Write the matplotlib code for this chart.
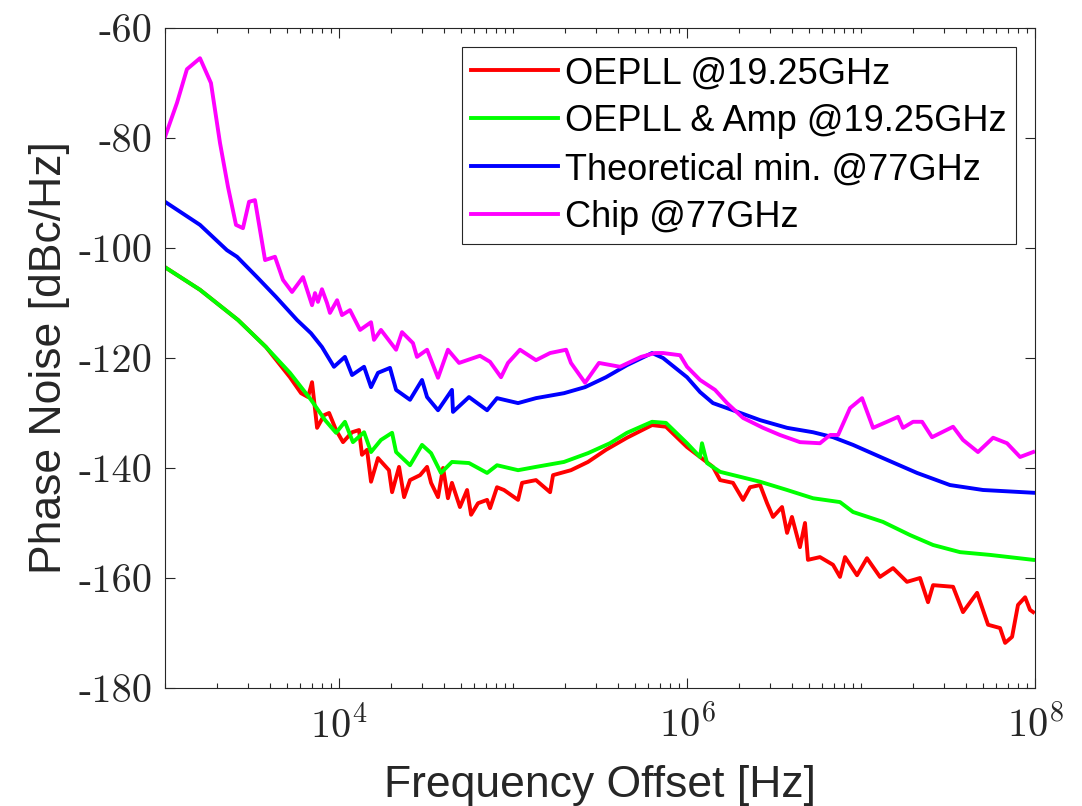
import numpy as np
import matplotlib
matplotlib.use("Agg")
import matplotlib.pyplot as plt
from matplotlib.ticker import LogLocator, NullFormatter, FixedLocator

# frequency points are given as log10(Hz), phase noise in dBc/Hz
red_logf = [3.000, 3.201, 3.420, 3.580, 3.718, 3.782, 3.822, 3.845, 3.874, 3.914,
            3.943, 3.983, 4.023, 4.075, 4.115, 4.132, 4.161, 4.184, 4.224, 4.287,
            4.305, 4.345, 4.374, 4.408, 4.466, 4.506, 4.529, 4.569, 4.598, 4.626,
            4.649, 4.695, 4.736, 4.759, 4.799, 4.851, 4.868, 4.908, 4.948, 5.029,
            5.052, 5.132, 5.213, 5.230, 5.333, 5.431, 5.534, 5.655, 5.799, 5.879,
            6.000, 6.075, 6.149, 6.190, 6.264, 6.322, 6.362, 6.420, 6.460, 6.494,
            6.546, 6.575, 6.603, 6.649, 6.678, 6.695, 6.764, 6.839, 6.879, 6.908,
            6.977, 7.034, 7.109, 7.184, 7.264, 7.339, 7.385, 7.414, 7.529, 7.586,
            7.667, 7.730, 7.799, 7.828, 7.868, 7.902, 7.943, 7.971, 7.989]
red_pn = [-103.5, -107.6, -113.1, -118.0, -123.5, -126.4, -127.1, -124.4, -132.7, -130.4,
          -130.0, -133.1, -135.3, -133.5, -133.1, -137.6, -136.7, -142.5, -138.2, -140.4,
          -144.4, -139.8, -145.3, -142.2, -141.3, -139.8, -142.7, -145.3, -140.0, -145.5,
          -142.7, -147.1, -144.0, -148.5, -146.4, -145.8, -147.3, -143.5, -144.0, -145.8,
          -142.7, -142.2, -144.4, -141.3, -140.4, -138.9, -136.7, -134.5, -132.2, -132.5,
          -136.2, -138.0, -139.8, -142.2, -142.7, -145.8, -143.5, -143.1, -146.4, -148.9,
          -147.1, -151.8, -148.9, -154.4, -150.0, -156.7, -156.2, -157.6, -159.8, -156.2,
          -159.5, -156.4, -159.8, -158.2, -160.7, -160.0, -164.4, -161.3, -161.6, -166.2,
          -162.7, -168.5, -169.1, -171.8, -170.7, -164.9, -163.5, -165.8, -166.2]

green_logf = [3.000, 3.201, 3.420, 3.580, 3.718, 3.839, 3.920, 3.983, 4.034, 4.080,
              4.144, 4.184, 4.241, 4.305, 4.328, 4.408, 4.477, 4.529, 4.586, 4.649,
              4.747, 4.851, 4.908, 5.029, 5.132, 5.293, 5.431, 5.557, 5.655, 5.799,
              5.879, 6.000, 6.075, 6.086, 6.115, 6.190, 6.305, 6.420, 6.575, 6.724,
              6.879, 6.954, 7.126, 7.282, 7.414, 7.569, 7.741, 7.989]
green_pn = [-103.5, -107.6, -113.1, -118.0, -122.7, -127.6, -131.3, -133.6, -131.6, -135.3,
            -133.5, -137.1, -134.9, -133.6, -137.1, -139.5, -135.8, -137.3, -140.9, -138.9,
            -139.1, -140.9, -139.5, -140.4, -139.8, -138.9, -137.3, -135.5, -133.6, -131.6,
            -131.8, -135.5, -138.0, -135.5, -139.1, -140.7, -141.6, -142.5, -144.0, -145.5,
            -146.2, -148.0, -149.8, -152.2, -154.0, -155.3, -155.8, -156.7]

blue_logf = [3.000, 3.201, 3.356, 3.414, 3.529, 3.638, 3.759, 3.839, 3.902, 3.971,
             4.034, 4.075, 4.144, 4.184, 4.224, 4.293, 4.328, 4.408, 4.477, 4.506,
             4.569, 4.649, 4.655, 4.747, 4.851, 4.908, 5.029, 5.132, 5.293, 5.414,
             5.534, 5.655, 5.799, 5.862, 6.000, 6.075, 6.149, 6.264, 6.420, 6.575,
             6.724, 6.839, 6.954, 7.126, 7.322, 7.511, 7.701, 7.989]
blue_pn = [-91.6, -95.8, -100.4, -101.6, -105.3, -108.9, -113.1, -115.5, -118.0, -121.6,
           -119.8, -123.1, -121.6, -125.3, -122.7, -121.8, -125.8, -127.6, -124.0, -127.1,
           -129.5, -125.8, -129.8, -127.1, -129.5, -127.3, -128.2, -127.3, -126.4, -125.3,
           -123.5, -121.3, -119.1, -120.0, -123.5, -126.2, -128.2, -129.5, -131.3, -132.7,
           -133.5, -134.4, -135.8, -138.2, -140.9, -143.1, -144.0, -144.5]

mag_logf = [3.000, 3.069, 3.126, 3.201, 3.264, 3.316, 3.362, 3.408, 3.448, 3.483,
            3.517, 3.575, 3.632, 3.678, 3.730, 3.793, 3.845, 3.862, 3.879, 3.902,
            3.931, 3.948, 3.989, 4.017, 4.063, 4.121, 4.184, 4.201, 4.241, 4.328,
            4.362, 4.425, 4.448, 4.506, 4.569, 4.626, 4.690, 4.810, 4.868, 4.931,
            4.971, 5.040, 5.132, 5.213, 5.305, 5.333, 5.414, 5.494, 5.615, 5.736,
            5.816, 5.862, 5.960, 6.000, 6.075, 6.161, 6.230, 6.322, 6.437, 6.534,
            6.649, 6.764, 6.822, 6.868, 6.937, 7.006, 7.069, 7.149, 7.213, 7.241,
            7.299, 7.351, 7.408, 7.529, 7.586, 7.672, 7.759, 7.839, 7.914, 7.989]
mag_pn = [-79.8, -73.6, -67.5, -65.5, -70.0, -80.9, -88.9, -95.8, -96.4, -91.6,
          -91.3, -102.2, -101.6, -105.8, -108.0, -105.3, -110.4, -108.2, -109.8, -107.5,
          -110.0, -111.8, -109.5, -112.2, -111.3, -114.9, -113.5, -116.7, -114.9, -118.5,
          -115.3, -117.3, -119.8, -118.5, -123.6, -118.5, -120.9, -119.6, -120.7, -123.5,
          -120.9, -118.5, -120.4, -119.1, -118.5, -120.9, -124.5, -120.9, -121.6, -119.8,
          -119.1, -119.1, -119.5, -121.6, -124.0, -125.8, -128.2, -130.9, -132.7, -134.0,
          -135.3, -135.5, -134.0, -134.0, -129.1, -127.3, -132.7, -131.6, -130.7, -132.7,
          -131.6, -131.6, -134.4, -132.5, -134.9, -137.1, -134.5, -135.5, -138.0, -137.1]

labels = ["OEPLL @19.25GHz", "OEPLL & Amp @19.25GHz",
          "Theoretical min. @77GHz", "Chip @77GHz"]
colors = ["#ff0000", "#00ff00", "#0000ff", "#ff00ff"]

plt.rcParams['mathtext.fontset'] = 'cm'
axcol = '#262626'

fig = plt.figure(figsize=(10.82, 8.06), dpi=100)
ax = fig.add_axes([0.1525, 0.1464, 0.8041, 0.8189])

series = [(red_logf, red_pn), (green_logf, green_pn),
          (blue_logf, blue_pn), (mag_logf, mag_pn)]
for (lf, pn), c, lab in zip(series, colors, labels):
    ax.plot(10 ** np.array(lf), pn, color=c, lw=2.8, label=lab)

ax.set_xscale('log')
ax.set_xlim(1e3, 1e8)
ax.set_ylim(-180, -60)

ax.xaxis.set_major_locator(FixedLocator([1e4, 1e6, 1e8]))
ax.xaxis.set_minor_locator(LogLocator(base=10, subs=np.arange(1, 10), numticks=20))
ax.xaxis.set_minor_formatter(NullFormatter())
ax.set_xticklabels([r'$10^{4}$', r'$10^{6}$', r'$10^{8}$'], fontsize=29)

yt = [-180, -160, -140, -120, -100, -80, -60]
ax.set_yticks(yt)
ax.set_yticklabels([str(v) for v in yt], fontfamily='cmr10', fontsize=29)

ax.tick_params(which='both', direction='in', top=True, right=True, colors=axcol)
ax.tick_params(which='major', length=7, width=0.8)
ax.tick_params(which='minor', length=3.5, width=0.8)
ax.tick_params(axis='y', pad=9)
ax.tick_params(axis='x', pad=13)
for s in ax.spines.values():
    s.set_color(axcol)
    s.set_linewidth(0.8)

ax.set_xlabel('Frequency Offset [Hz]', fontfamily='Liberation Sans', fontsize=32,
              color=axcol, labelpad=13)
ax.set_ylabel('Phase Noise [dBc/Hz]', fontfamily='Liberation Sans', fontsize=32,
              color=axcol, labelpad=6)

leg = ax.legend(loc='upper right', bbox_to_anchor=(0.978, 0.971), borderaxespad=0,
                prop={'family': 'Liberation Sans', 'size': 26}, fancybox=False,
                framealpha=1, edgecolor=axcol, handlelength=2.4, handletextpad=0.2,
                borderpad=0.25, labelspacing=0.36)
leg.get_frame().set_linewidth(0.8)

fig.savefig('out.png', dpi=100)
